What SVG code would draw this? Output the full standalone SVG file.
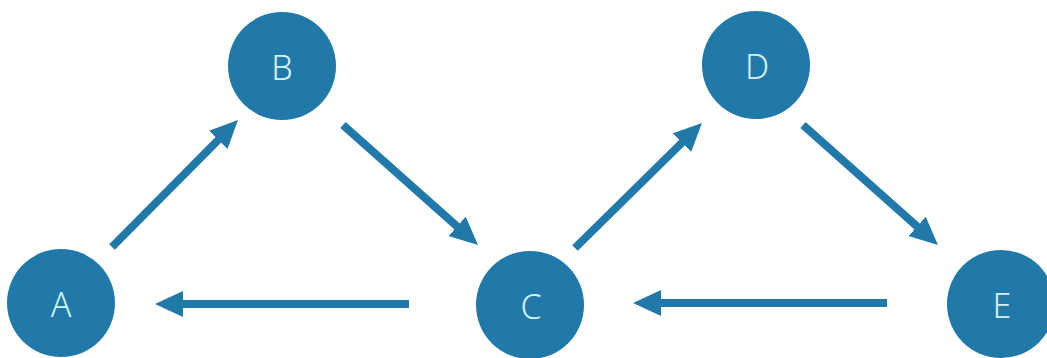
<svg xmlns="http://www.w3.org/2000/svg" width="1047" height="358" viewBox="0 0 1047 358">
<style>
.node circle{fill:#2079a8}
.node text{fill:#d4f1fa;font-family:"Noto Sans","Open Sans",sans-serif;font-size:34px;font-weight:300;text-anchor:middle;dominant-baseline:central}
.edge{stroke:#2079a8;stroke-width:8;fill:none;marker-end:url(#ah)}
</style>
<defs>
<marker id="ah" markerUnits="userSpaceOnUse" markerWidth="30" markerHeight="28" refX="8" refY="13" orient="auto" viewBox="0 0 30 28">
<path d="M0,0 L28,13 L0,26 Z" fill="#2079a8"/>
</marker>
</defs>
<rect width="1047" height="358" fill="#ffffff"/>
<g id="connectors">
<line class="edge" x1="112" y1="247" x2="223.9" y2="134.2"/>
<line class="edge" x1="343" y1="125" x2="463.05" y2="231.7"/>
<line class="edge" x1="575" y1="248" x2="687.75" y2="137"/>
<line class="edge" x1="803" y1="125" x2="923.05" y2="231.7"/>
<line class="edge" x1="887" y1="303" x2="653" y2="303"/>
<line class="edge" x1="409" y1="304" x2="175" y2="304"/>
</g>
<g id="node-A" class="node"><circle cx="61" cy="303" r="54"/><text x="61" y="304">A</text></g>
<g id="node-B" class="node"><circle cx="282" cy="66" r="54"/><text x="282" y="67">B</text></g>
<g id="node-C" class="node"><circle cx="530" cy="305" r="54"/><text x="531" y="306">C</text></g>
<g id="node-D" class="node"><circle cx="756" cy="65" r="54"/><text x="757" y="66">D</text></g>
<g id="node-E" class="node"><circle cx="1001" cy="304" r="54"/><text x="1002" y="305">E</text></g>
</svg>
